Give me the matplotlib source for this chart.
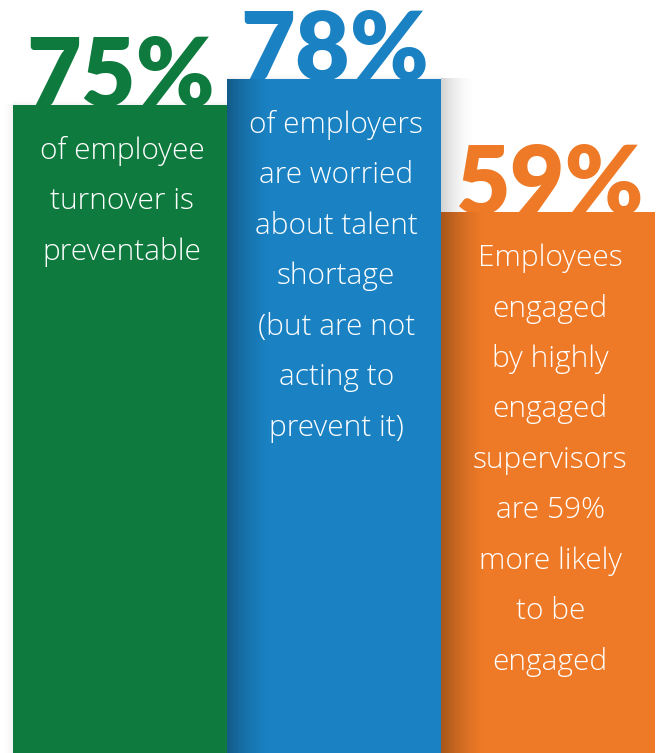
import numpy as np
import matplotlib.pyplot as plt
from matplotlib.colors import LinearSegmentedColormap

# datos
porcentajes = ['75%', '78%', '59%']
alturas = [86.1, 89.5, 71.8]   # altura visual de cada barra (0-100 = alto de la figura)
colores = ['#0e7a3e', '#1a82c3', '#ee7a27']
textos = [
    ['of employee', 'turnover is', 'preventable'],
    ['of employers', 'are worried', 'about talent', 'shortage', '(but are not', 'acting to', 'prevent it)'],
    ['Employees', 'engaged', 'by highly', 'engaged', 'supervisors', 'are 59%', 'more likely', 'to be', 'engaged'],
]

W, H = 660, 753
fig = plt.figure(figsize=(W / 100, H / 100), dpi=100)
ax = fig.add_axes([0, 0, 1, 1])
ax.set_xlim(-0.5607, 2.523)
ax.set_ylim(0, 100)
ax.axis('off')

px_x = (2.523 + 0.5607) / W   # unidades x por pixel
px_y = 100 / H

pos = np.arange(len(porcentajes))

# sombras exteriores suaves
gris = LinearSegmentedColormap.from_list('sombra', [(0, 0, 0, 0), (0, 0, 0, 1)])
g = np.linspace(0, 1, 64).reshape(1, -1)
# izquierda de la barra verde
ax.imshow(g ** 2, cmap=gris, alpha=0.05, aspect='auto', zorder=0.5,
          extent=[pos[0] - 0.5 - 14 * px_x, pos[0] - 0.5, 0, alturas[0]])
# derecha de la barra azul (sobre la naranja)
ax.imshow(g[:, ::-1] ** 2, cmap=gris, alpha=0.18, aspect='auto', zorder=0.5,
          extent=[pos[1] + 0.5, pos[1] + 0.5 + 38 * px_x, alturas[2], alturas[1]])
# encima de las barras
gv = np.linspace(0, 1, 64).reshape(-1, 1)
for i in range(2):
    ax.imshow(gv ** 2, cmap=gris, alpha=0.06, aspect='auto', zorder=0.5,
              extent=[pos[i] - 0.5, pos[i] + 0.5, alturas[i], alturas[i] + 6 * px_y])

# números grandes (detrás de las barras)
for i in range(len(porcentajes)):
    ax.text(pos[i] + 0.005, alturas[i] - 1.2 * px_y, porcentajes[i], color=colores[i],
            ha='center', va='baseline', fontsize=68, fontfamily='Lato',
            fontweight='heavy', zorder=1)

# barras
ax.bar(pos, alturas, width=1.0, color=colores, zorder=2, linewidth=0)

# sombra interior en el borde izquierdo de las barras azul y naranja
for i in [1, 2]:
    ax.imshow(g[:, ::-1] ** 1.5, cmap=gris, alpha=0.3, aspect='auto', zorder=2.5,
              extent=[pos[i] - 0.5, pos[i] - 0.5 + 45 * px_x, 0, alturas[i]])

# texto blanco
inicio = [151, 125, 258]
paso = 50.5
for i in range(len(textos)):
    for j, linea in enumerate(textos[i]):
        y = 100 - (inicio[i] + j * paso) * px_y
        ax.text(pos[i] + 0.01, y, linea, color='white', ha='center', va='center',
                fontsize=21.5, fontfamily='Open Sans', fontweight='light', zorder=3)

fig.savefig('out.png', dpi=100)
